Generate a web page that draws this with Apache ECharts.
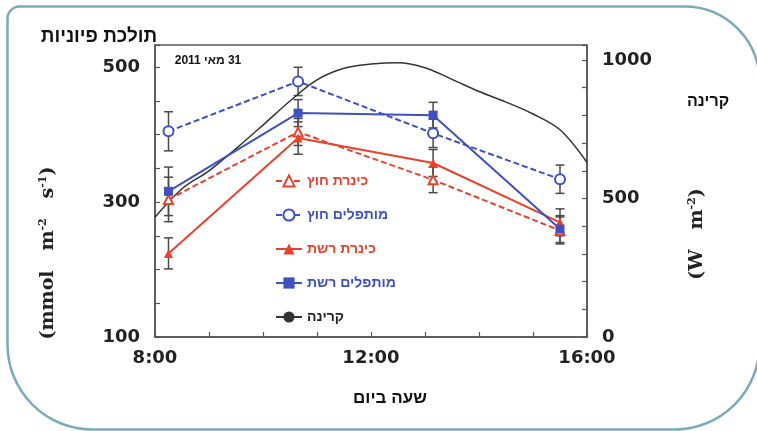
<!DOCTYPE html>
<html><head><meta charset="utf-8">
<script src="https://cdn.jsdelivr.net/npm/echarts@6/dist/echarts.min.js"></script>
<style>html,body{margin:0;padding:0;background:#fff}#c{width:757px;height:431px}</style>
</head><body><div id="c"></div>
<script>
// ---- data ----
const times = [8.25, 10.65, 13.15, 15.5];
const kinneretOut = [304, 404, 333, 258];
const kinneretOutErr = [33, 20, 19, 20];
const desalOut = [405, 479, 402, 334];
const desalOutErr = [29, 21, 21, 21];
const kinneretNet = [224, 395, 358, 270];
const kinneretNetErr = [23, 24, 20, 20];
const desalNet = [316, 432, 429, 260];
const desalNetErr = [36, 20, 19, 20];
const radTimes = [8, 8.5, 9, 9.5, 10, 10.5, 11, 11.5, 12, 12.5, 13, 13.5, 14, 14.5, 15, 15.5, 16];
const radiation = [432, 535, 600, 680, 765, 852, 928, 970, 985, 990, 972, 930, 886, 848, 805, 748, 630];
const seriesNames = ['כינרת חוץ', 'מותפלים חוץ', 'כינרת רשת', 'מותפלים רשת', 'קרינה'];
const xTickLabels = {8: '8:00', 12: '12:00', 16: '16:00'};
const leftTickLabels = [100, 300, 500];
const rightTickLabels = [0, 500, 1000];

const RED = '#e8422f', BLUE = '#3f51c0', AX = '#555';
const numFont = 'DejaVu Sans';
const hebFont = 'Liberation Sans';

const chart = echarts.init(document.getElementById('c'));

function pairs(xs, ys) { return xs.map((x, i) => [x, ys[i]]); }
function errData(vals, errs) { return times.map((t, i) => [t, vals[i] - errs[i], vals[i] + errs[i]]); }
function errRender(params, api) {
  const x = api.value(0);
  const p1 = api.coord([x, api.value(1)]);
  const p2 = api.coord([x, api.value(2)]);
  const w = 4.5;
  const st = {stroke: '#4a4a4a', lineWidth: 1.5};
  return {type: 'group', children: [
    {type: 'line', shape: {x1: p1[0], y1: p1[1], x2: p2[0], y2: p2[1]}, style: st},
    {type: 'line', shape: {x1: p1[0] - w, y1: p1[1], x2: p1[0] + w, y2: p1[1]}, style: st},
    {type: 'line', shape: {x1: p2[0] - w, y1: p2[1], x2: p2[0] + w, y2: p2[1]}, style: st}
  ]};
}
function errSeries(vals, errs) {
  return {type: 'custom', renderItem: errRender, data: errData(vals, errs), z: 1, silent: true,
          encode: {x: 0, y: [1, 2]}};
}

const option = {
  backgroundColor: '#fff',
  animation: false,
  grid: {left: 155, right: 170, top: 45, bottom: 94, show: true, borderColor: AX, borderWidth: 1.5, backgroundColor: 'transparent'},
  xAxis: {
    type: 'value', min: 8, max: 16, interval: 1,
    axisLine: {lineStyle: {color: AX, width: 1.5}},
    axisTick: {inside: true, length: 5, lineStyle: {color: AX, width: 1.2}},
    splitLine: {show: false},
    axisLabel: {margin: 12, color: '#222', fontFamily: numFont, fontWeight: 'bold', fontSize: 18,
      formatter: v => xTickLabels[v] || ''}
  },
  yAxis: [
    {type: 'value', min: 100, max: 533, interval: 50, position: 'left',
     axisLine: {show: true, lineStyle: {color: AX, width: 1.5}},
     axisTick: {show: true, inside: true, length: 5, lineStyle: {color: AX, width: 1.2}},
     splitLine: {show: false},
     axisLabel: {margin: 15, color: '#222', fontFamily: numFont, fontWeight: 'bold', fontSize: 18,
       formatter: v => leftTickLabels.includes(v) ? String(v) : ''}},
    {type: 'value', min: 0, max: 1054, interval: 100, position: 'right',
     axisLine: {show: true, lineStyle: {color: AX, width: 1.5}},
     axisTick: {show: true, inside: true, length: 5, lineStyle: {color: AX, width: 1.2}},
     splitLine: {show: false},
     axisLabel: {margin: 15, color: '#222', fontFamily: numFont, fontWeight: 'bold', fontSize: 18,
       formatter: v => rightTickLabels.includes(v) ? String(v) : ''}}
  ],
  legend: {
    orient: 'vertical', left: 275, top: 174, padding: 0, itemGap: 20, itemWidth: 26, itemHeight: 14,
    textStyle: {fontFamily: hebFont, fontWeight: 'bold', fontSize: 14},
    data: [
      {name: seriesNames[0], textStyle: {color: RED}},
      {name: seriesNames[1], textStyle: {color: BLUE}},
      {name: seriesNames[2], textStyle: {color: RED}},
      {name: seriesNames[3], textStyle: {color: BLUE}},
      {name: seriesNames[4], textStyle: {color: '#222'}}
    ]
  },
  series: [
    {name: seriesNames[4], type: 'line', yAxisIndex: 1, data: pairs(radTimes, radiation), smooth: 0.35,
     showSymbol: false, symbol: 'none', lineStyle: {color: '#333', width: 1.5}, itemStyle: {color: '#333'}, z: 2},
    errSeries(kinneretOut, kinneretOutErr),
    errSeries(desalOut, desalOutErr),
    errSeries(kinneretNet, kinneretNetErr),
    errSeries(desalNet, desalNetErr),
    {name: seriesNames[0], type: 'line', data: pairs(times, kinneretOut), symbol: 'emptyTriangle', symbolSize: 9,
     lineStyle: {color: RED, width: 2, type: [6, 3]}, itemStyle: {color: RED, borderWidth: 1.5}, z: 3},
    {name: seriesNames[1], type: 'line', data: pairs(times, desalOut), symbol: 'emptyCircle', symbolSize: 10,
     lineStyle: {color: BLUE, width: 2, type: [6, 3]}, itemStyle: {color: BLUE, borderWidth: 1.5}, z: 3},
    {name: seriesNames[2], type: 'line', data: pairs(times, kinneretNet), symbol: 'triangle', symbolSize: 9,
     lineStyle: {color: RED, width: 2}, itemStyle: {color: RED}, z: 3},
    {name: seriesNames[3], type: 'line', data: pairs(times, desalNet), symbol: 'rect', symbolSize: 9,
     lineStyle: {color: BLUE, width: 2}, itemStyle: {color: BLUE}, z: 3}
  ],
  graphic: [
    {type: 'rect', left: 5, top: 4, z: -10, silent: true,
     shape: {width: 752, height: 423, r: [12, 75, 85, 85]},
     style: {fill: 'none', stroke: '#7aaabb', lineWidth: 2.5}},
    {type: 'text', x: 99, y: 37, style: {text: 'תולכת פיוניות', fill: '#111', font: 'bold 19px "Liberation Sans"', textAlign: 'center', textVerticalAlign: 'middle'}},
    {type: 'text', x: 708, y: 102, style: {text: 'קרינה', fill: '#111', font: 'bold 16px "Liberation Sans"', textAlign: 'center', textVerticalAlign: 'middle'}},
    {type: 'text', x: 390, y: 398, style: {text: 'שעה ביום', fill: '#111', font: 'bold 17px "Liberation Sans"', textAlign: 'center', textVerticalAlign: 'middle'}},
    {type: 'text', x: 208, y: 61, style: {text: '\u200F31 מאי 2011', fill: '#111', font: 'bold 12px "Liberation Sans"', textAlign: 'center', textVerticalAlign: 'middle'}},
    {type: 'text', x: 48, y: 253, rotation: Math.PI / 2,
     style: {text: '(mmol   m{s|-2}   s{s|-1})', fill: '#222', font: 'bold 19px "DejaVu Serif"', textAlign: 'center', textVerticalAlign: 'middle',
       rich: {s: {fontSize: 11, fontFamily: 'DejaVu Serif', fontWeight: 'bold', verticalAlign: 'top', padding: [0, 0, 10, 0]}}}},
    {type: 'text', x: 697, y: 234, rotation: Math.PI / 2,
     style: {text: '(W   m{s|-2})', fill: '#222', font: 'bold 19px "DejaVu Serif"', textAlign: 'center', textVerticalAlign: 'middle',
       rich: {s: {fontSize: 11, fontFamily: 'DejaVu Serif', fontWeight: 'bold', verticalAlign: 'top', padding: [0, 0, 10, 0]}}}}
  ]
};
chart.setOption(option);
</script></body></html>
